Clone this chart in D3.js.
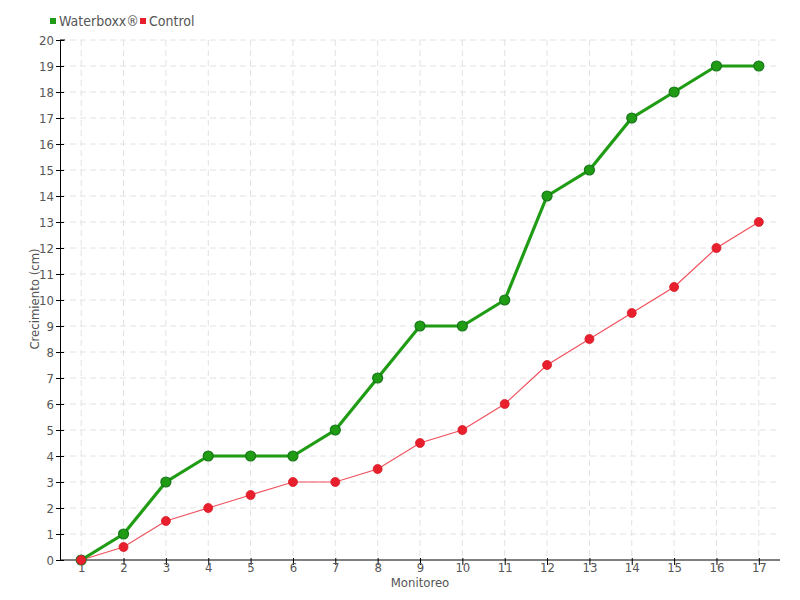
<!DOCTYPE html>
<html>
<head>
  <script src="https://d3js.org/d3.v7.min.js"></script>
  <style>
    body { margin: 0; background: #fff; }
    text { font-family: "DejaVu Sans Condensed", "Liberation Sans Narrow", "DejaVu Sans", sans-serif; font-stretch: condensed; fill: #555; }
  </style>
</head>
<body>
  <div id="svgcontainer"></div>
  <script>
    // data
    var monitoreo = [1, 2, 3, 4, 5, 6, 7, 8, 9, 10, 11, 12, 13, 14, 15, 16, 17];
    var waterboxx = [0, 1, 3, 4, 4, 4, 5, 7, 9, 9, 10, 14, 15, 17, 18, 19, 19];
    var control = [0, 0.5, 1.5, 2, 2.5, 3, 3, 3.5, 4.5, 5, 6, 7.5, 8.5, 9.5, 10.5, 12, 13];
    var yTicks = d3.range(0, 21);

    var margin = { top: 40, right: 20, bottom: 40, left: 60 },
      width = 800 - margin.left - margin.right,
      height = 600 - margin.top - margin.bottom;

    var root = d3.select("#svgcontainer")
      .append("svg")
      .attr("width", 800)
      .attr("height", 600);

    var svg = root.append("g")
      .attr("transform", "translate(" + margin.left + "," + margin.top + ")");

    var x = d3.scalePoint().domain(monitoreo).range([0, width]).padding(0.5);
    var y = d3.scaleLinear().domain([0, 20]).range([height, 0]);

    // grid
    svg.append("g").selectAll("line").data(yTicks.slice(1)).enter().append("line")
      .attr("x1", 0).attr("x2", width)
      .attr("y1", d => y(d)).attr("y2", d => y(d))
      .attr("stroke", "#e2e2e2").attr("stroke-dasharray", "6,4");
    svg.append("g").selectAll("line").data(monitoreo).enter().append("line")
      .attr("x1", d => x(d)).attr("x2", d => x(d))
      .attr("y1", 0).attr("y2", height)
      .attr("stroke", "#e2e2e2").attr("stroke-dasharray", "6,4");

    // axes
    var yAxis = svg.append("g")
      .call(d3.axisLeft(y).tickValues(yTicks).tickSize(4).tickSizeOuter(0));
    yAxis.selectAll(".tick line").attr("x1", 4).attr("x2", -4).attr("stroke", "#000");
    yAxis.select(".domain").attr("stroke", "#000");
    yAxis.selectAll("text").attr("x", -6).style("font-size", "13px").style("fill", "#555");
    svg.append("line").attr("x1", 0).attr("x2", 5).attr("y1", 0).attr("y2", 0).attr("stroke", "#000");

    var xAxis = svg.append("g")
      .attr("transform", "translate(0," + height + ")")
      .call(d3.axisBottom(x).tickSize(5).tickSizeOuter(0));
    xAxis.select(".domain").attr("stroke", "#000").attr("d", "M0,0H" + width);
    xAxis.selectAll(".tick line").attr("y1", -2).attr("y2", 5).attr("stroke", "#000");
    xAxis.selectAll("text").attr("y", 3).style("font-size", "13px").style("fill", "#555");

    // axis titles
    root.append("text")
      .attr("x", margin.left + width / 2).attr("y", 587)
      .attr("text-anchor", "middle").style("font-size", "13px")
      .text("Monitoreo");
    root.append("text")
      .attr("transform", "translate(39," + (margin.top + height / 2 - 1) + ") rotate(-90)")
      .attr("text-anchor", "middle").style("font-size", "13px")
      .text("Crecimiento (cm)");

    // lines
    var line = d3.line().x((d, i) => x(monitoreo[i])).y(d => y(d));

    svg.append("path").datum(control)
      .attr("d", line).attr("fill", "none")
      .attr("stroke", "#f0505c").attr("stroke-width", 1.2);

    svg.append("path").datum(waterboxx)
      .attr("d", line).attr("fill", "none")
      .attr("stroke", "#1f9c14").attr("stroke-width", 3.2);

    svg.append("g").selectAll("circle").data(waterboxx).enter().append("circle")
      .attr("cx", (d, i) => x(monitoreo[i])).attr("cy", d => y(d))
      .attr("r", 5).attr("fill", "#1f9c14").attr("stroke", "#17781a").attr("stroke-width", 1.2);

    svg.append("g").selectAll("circle").data(control).enter().append("circle")
      .attr("cx", (d, i) => x(monitoreo[i])).attr("cy", d => y(d))
      .attr("r", 4.5).attr("fill", "#e8202e").attr("stroke", "#d81c28").attr("stroke-width", 0.8);

    // legend
    var legend = [{ name: "Waterboxx®", color: "#1f9c14", x: 50 }, { name: "Control", color: "#e8202e", x: 140 }];
    legend.forEach(function (l) {
      root.append("rect").attr("x", l.x).attr("y", 18).attr("width", 6).attr("height", 6).attr("fill", l.color);
      root.append("text").attr("x", l.x + 9).attr("y", 26).style("font-size", "14px").text(l.name);
    });
  </script>
</body>
</html>
